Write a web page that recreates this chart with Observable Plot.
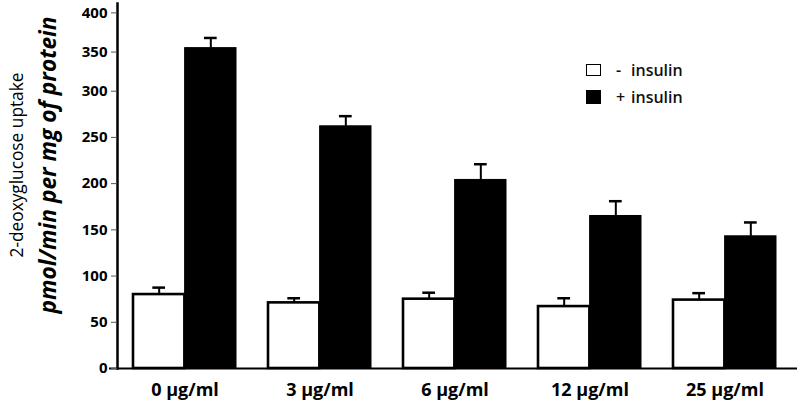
<!DOCTYPE html>
<html>
<head>
<meta charset="utf-8">
<script src="https://cdn.jsdelivr.net/npm/d3@7"></script>
<script src="https://cdn.jsdelivr.net/npm/@observablehq/plot@0.6"></script>
<style>
  html, body { margin: 0; padding: 0; background: #fff; }
  #wrap { position: relative; width: 800px; height: 413px; font-family: "Open Sans", sans-serif; }
  .legend { position: absolute; left: 586px; font-size: 16px; font-weight: 600; color: #111; display: flex; align-items: center; line-height: 20px; }
  .sw { width: 13px; height: 10px; border: 1.5px solid #000; margin-right: 15px; box-sizing: content-box; }
  .sign { display: inline-block; width: 15px; }
</style>
</head>
<body>
<div id="wrap">
  <div id="chart"></div>
  <div class="legend" style="top:60px"><span class="sw" style="background:#fff"></span><span class="sign">-</span><span>insulin</span></div>
  <div class="legend" style="top:87px"><span class="sw" style="background:#000;height:12px"></span><span class="sign">+</span><span>insulin</span></div>
</div>
<script>
const concentrations = ["0 μg/ml", "3 μg/ml", "6 μg/ml", "12 μg/ml", "25 μg/ml"];
const minusInsulin = [80, 71, 75, 67, 74];
const minusErr = [7.5, 5, 7, 9, 7.5];
const plusInsulin = [355, 262, 204, 165, 143];
const plusErr = [13, 11, 17, 16, 15];
const yTicks = [0, 50, 100, 150, 200, 250, 300, 350, 400];

const minusData = concentrations.map((c, i) => ({c, v: minusInsulin[i], e: minusErr[i]}));
const plusData = concentrations.map((c, i) => ({c, v: plusInsulin[i], e: plusErr[i]}));

const W = 800, H = 413, mL = 117, mR = 9, mT = 3, mB = 45;
const xOpts = {type: "band", domain: concentrations, paddingInner: 0.24, paddingOuter: 0.1};
const bw = Plot.scale({x: {...xOpts, range: [mL, W - mR]}}).bandwidth;
const half = bw / 2, q = bw / 4, cap = 6.5;

const plot = Plot.plot({
  width: W, height: H,
  marginLeft: mL, marginRight: mR, marginTop: mT, marginBottom: mB,
  style: {fontFamily: "Open Sans, sans-serif", color: "#000", background: "#fff"},
  x: {...xOpts, label: null},
  y: {type: "linear", domain: [0, 300, 412], range: [H - mB, 90.7, mT], label: null},
  marks: [
    Plot.barY(minusData, {x: "c", y: "v", fill: "#fff", stroke: "#000", strokeWidth: 2.6, insetRight: half}),
    Plot.barY(plusData, {x: "c", y: "v", fill: "#000", stroke: "#000", strokeWidth: 1, insetLeft: half}),
    Plot.ruleX(minusData, {x: "c", y1: "v", y2: d => d.v + d.e, dx: -q, strokeWidth: 2}),
    Plot.ruleX(plusData, {x: "c", y1: "v", y2: d => d.v + d.e, dx: q, strokeWidth: 2}),
    Plot.tickY(minusData, {x: "c", y: d => d.v + d.e, insetLeft: q - cap, insetRight: 3 * q - cap, strokeWidth: 2.5}),
    Plot.tickY(plusData, {x: "c", y: d => d.v + d.e, insetLeft: 3 * q - cap, insetRight: q - cap, strokeWidth: 2.5}),
    Plot.ruleY([0], {strokeWidth: 2, insetLeft: -8, insetRight: -6}),
    Plot.frame({anchor: "left", strokeWidth: 2.5}),
    Plot.axisY({ticks: yTicks, tickSize: 6, tickPadding: 4, fontSize: 15, fontWeight: "bold", stroke: "#555", strokeWidth: 1}),
    Plot.axisX({tickSize: 0, tickPadding: 15, fontSize: 18, fontWeight: "bold"}),
    Plot.text(["2-deoxyglucose uptake"], {frameAnchor: "left", rotate: -90, dx: -100, dy: -21, fontSize: 17.3, fontWeight: 500, textAnchor: "middle", lineAnchor: "middle"}),
    Plot.text(["pmol/min per mg of protein"], {frameAnchor: "left", rotate: -90, dx: -69, dy: -21, fontSize: 22.7, fontWeight: "bold", fontStyle: "italic", textAnchor: "middle", lineAnchor: "middle"})
  ]
});
document.getElementById("chart").appendChild(plot);
</script>
</body>
</html>
